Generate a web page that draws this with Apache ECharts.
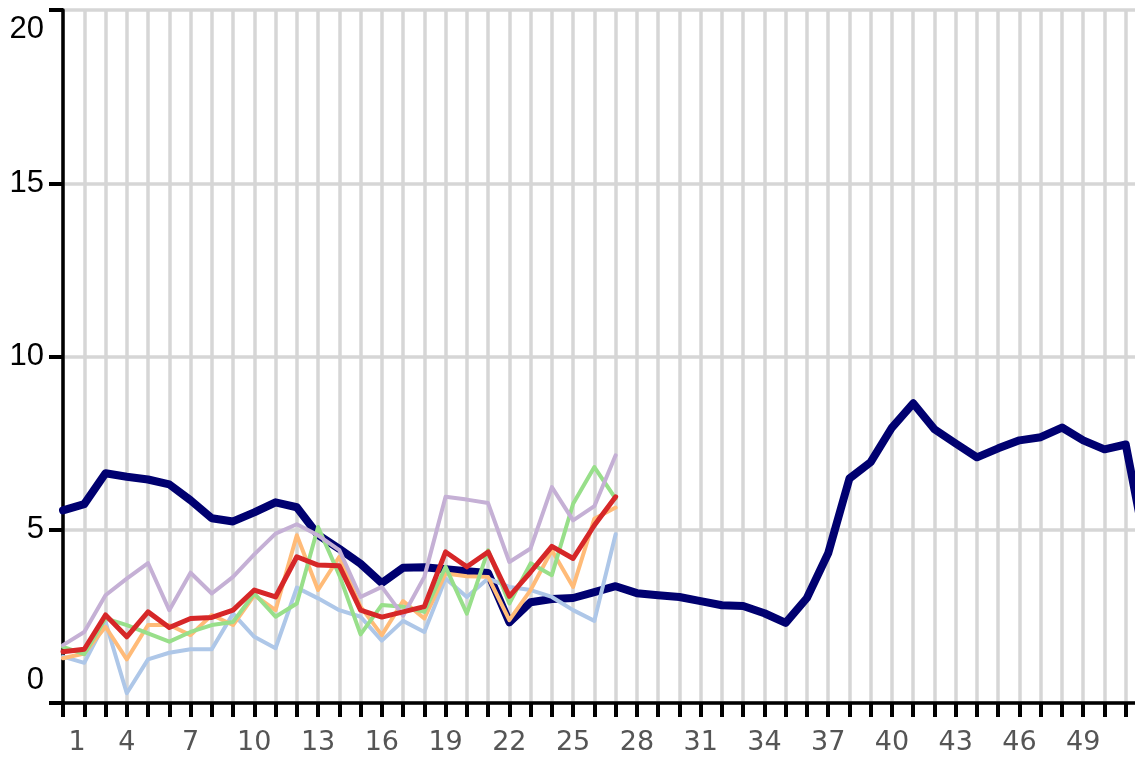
<!DOCTYPE html>
<html>
<head>
<meta charset="utf-8">
<script src="https://cdn.jsdelivr.net/npm/echarts@6/dist/echarts.min.js"></script>
<style>
html,body{margin:0;padding:0;background:#fff;}
#chart{width:1135px;height:757px;}
</style>
</head>
<body>
<div id="chart"></div>
<script>
var categories = [];
for (var w = 1; w <= 52; w++) categories.push(String(w));

var navySeries = [5.56,5.74,6.63,6.53,6.45,6.31,5.85,5.33,5.24,5.5,5.79,5.65,4.85,4.45,4.02,3.46,3.9,3.92,3.86,3.8,3.75,2.33,2.91,3.0,3.03,3.2,3.37,3.17,3.11,3.06,2.94,2.82,2.8,2.59,2.31,3.03,4.32,6.48,6.95,7.95,8.65,7.9,7.49,7.09,7.35,7.58,7.67,7.95,7.58,7.32,7.46,4.3];
var lightBlueSeries = [1.34,1.16,2.34,0.28,1.26,1.45,1.55,1.55,2.58,1.91,1.58,3.33,3.02,2.68,2.49,1.8,2.37,2.05,3.59,3.06,3.59,3.35,3.26,3.06,2.68,2.37,4.87];
var orangeSeries = [1.29,1.43,2.2,1.26,2.25,2.25,1.96,2.54,2.25,3.11,2.68,4.84,3.26,4.22,2.78,1.96,2.94,2.44,3.74,3.66,3.64,2.39,3.26,4.41,3.35,5.32,5.64];
var greenSeries = [1.62,1.41,2.44,2.25,2.01,1.77,2.05,2.25,2.34,3.16,2.49,2.87,5.08,3.69,1.98,2.83,2.78,2.63,3.93,2.58,4.41,2.87,4.03,3.69,5.75,6.81,5.9];
var lavenderSeries = [1.67,2.05,3.11,3.59,4.04,2.68,3.76,3.16,3.64,4.29,4.89,5.16,4.84,4.41,3.06,3.35,2.52,3.64,5.95,5.87,5.77,4.07,4.46,6.23,5.27,5.68,7.15];
var redSeries = [1.48,1.55,2.54,1.91,2.63,2.18,2.44,2.47,2.68,3.26,3.06,4.22,3.98,3.96,2.68,2.48,2.63,2.78,4.36,3.93,4.36,3.08,3.78,4.52,4.17,5.13,5.95];

var yMin = 0, yMax = 20, yStep = 5;

var chart = echarts.init(document.getElementById('chart'), null, {renderer: 'canvas'});

function line(name, data, color, width) {
  return {
    name: name, type: 'line', data: data, showSymbol: false, symbol: 'none',
    smooth: false, silent: true,
    lineStyle: {color: color, width: width, cap: 'round', join: 'round'}
  };
}

chart.setOption({
  animation: false,
  backgroundColor: '#fff',
  grid: {left: 63, top: 10, right: -12, bottom: 54, containLabel: false, outerBoundsMode: 'none'},
  xAxis: {
    type: 'category',
    data: categories,
    boundaryGap: false,
    axisLine: {show: true, lineStyle: {color: '#000', width: 3.5}},
    axisTick: {show: true, interval: 0, length: 14, lineStyle: {color: '#000', width: 4}},
    splitLine: {show: true, interval: 0, lineStyle: {color: '#d6d6d6', width: 3.5}},
    axisLabel: {
      interval: 2, margin: 26, color: '#555', fontSize: 27, fontFamily: 'DejaVu Sans',
      formatter: function (v, i) {
        if (i === categories.length - 1) return '';
        return i === 0 ? '{f|' + v + '}' : v;
      },
      rich: {f: {padding: [0, 0, 0, 28], fontSize: 27, fontFamily: 'DejaVu Sans', color: '#555'}}
    }
  },
  yAxis: {
    type: 'value',
    min: yMin, max: yMax, interval: yStep,
    axisLine: {show: true, lineStyle: {color: '#000', width: 3.5}},
    axisTick: {show: true, length: 14, lineStyle: {color: '#000', width: 4}},
    splitLine: {show: true, lineStyle: {color: '#d6d6d6', width: 3.5}},
    axisLabel: {
      margin: 19, color: '#000', fontSize: 31, fontFamily: 'Liberation Sans',
      formatter: function (v) {
        if (v === yMax) return '{t|' + v + '}';
        if (v === yMin) return '{b|' + v + '}';
        return String(v);
      },
      rich: {
        t: {padding: [38, 0, 0, 0], fontSize: 31, fontFamily: 'Liberation Sans', color: '#000'},
        b: {padding: [0, 0, 46, 0], fontSize: 31, fontFamily: 'Liberation Sans', color: '#000'}
      }
    }
  },
  series: [
    line('navy', navySeries, '#000070', 8),
    line('lightblue', lightBlueSeries, '#aec7e8', 4),
    line('orange', orangeSeries, '#ffbb78', 4),
    line('green', greenSeries, '#98df8a', 4),
    line('lavender', lavenderSeries, '#c5b0d5', 4),
    line('red', redSeries, '#d62728', 5)
  ]
});
</script>
</body>
</html>
